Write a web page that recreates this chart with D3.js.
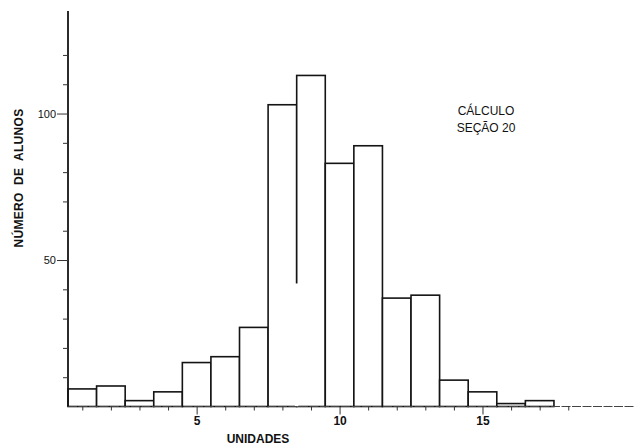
<!DOCTYPE html>
<html>
<head>
<meta charset="utf-8">
<script src="https://cdn.jsdelivr.net/npm/d3@7/dist/d3.min.js"></script>
<style>
  html, body { margin: 0; padding: 0; background: #fff; }
  svg { display: block; font-family: "Liberation Sans", Arial, Helvetica, sans-serif; }
</style>
</head>
<body>
<svg id="chart" width="634" height="447"></svg>
<script>
// Histogram: number of students per unit count (Cálculo, seção 20)
const unidades = [1, 2, 3, 4, 5, 6, 7, 8, 9, 10, 11, 12, 13, 14, 15, 16, 17];
const alunos   = [6, 7, 2, 5, 15, 17, 27, 103, 113, 83, 89, 37, 38, 9, 5, 1, 2];
const xTicks = d3.range(1, 19);
const xTickLabels = [5, 10, 15];
const yTicks = d3.range(10, 130, 10);
const yTickLabels = [50, 100];
const titleLines = ["CÁLCULO", "SEÇÃO 20"];
const xTitle = "UNIDADES";
const yTitle = "NÚMERO  DE  ALUNOS";
// the pen stroke between bars 8 and 9 stops short of the baseline
const undrawnEdges = [{ between: [8, 9], upTo: 42 }];

const W = 634, H = 447;
const margin = { top: 11, right: 0, bottom: 40.5, left: 68 };

const svg = d3.select("#chart");

const x = d3.scaleLinear().domain([0.5, 20.3]).range([margin.left, W - margin.right]);
const y = d3.scaleLinear().domain([0, 135]).range([H - margin.bottom, margin.top]);

const ink = "#141414";

// bars
svg.append("g")
  .selectAll("rect")
  .data(unidades.map((u, i) => ({ u, v: alunos[i] })))
  .join("rect")
  .attr("x", d => x(d.u - 0.5))
  .attr("width", d => x(d.u + 0.5) - x(d.u - 0.5))
  .attr("y", d => y(d.v))
  .attr("height", d => y(0) - y(d.v))
  .attr("fill", "#fff")
  .attr("stroke", ink)
  .attr("stroke-width", 1.6);

// blank out the lower part of the shared edge that was never inked
svg.append("g")
  .selectAll("line")
  .data(undrawnEdges)
  .join("line")
  .attr("x1", d => x((d.between[0] + d.between[1]) / 2))
  .attr("x2", d => x((d.between[0] + d.between[1]) / 2))
  .attr("y1", y(0))
  .attr("y2", d => y(d.upTo))
  .attr("stroke", "#fff")
  .attr("stroke-width", 3.4);

// x axis
const xAxis = d3.axisBottom(x)
  .tickValues(xTicks)
  .tickSize(4)
  .tickFormat(d => xTickLabels.includes(d) ? d : "");
const gx = svg.append("g")
  .attr("transform", `translate(0,${y(0)})`)
  .call(xAxis);
gx.select(".domain")
  .attr("d", `M${x(0.5)},0H${W}`)
  .attr("stroke", "#444")
  .attr("stroke-width", 1)
  .attr("stroke-dasharray", "9 1.5");
gx.selectAll(".tick line")
  .attr("stroke", "#333")
  .attr("stroke-width", 1)
  .attr("y2", d => xTickLabels.includes(d) ? 8 : 4);
gx.selectAll(".tick text")
  .attr("y", 10)
  .attr("fill", "#111")
  .attr("font-size", 12)
  .attr("font-weight", "bold")
  .attr("font-family", "'Liberation Sans', Arial, sans-serif");

// y axis
const yAxis = d3.axisLeft(y)
  .tickValues(yTicks)
  .tickSize(5)
  .tickFormat(d => yTickLabels.includes(d) ? d : "");
const gy = svg.append("g")
  .attr("transform", `translate(${x(0.5)},0)`)
  .call(yAxis);
gy.select(".domain")
  .attr("d", `M0,${y(0)}V${y(135)}`)
  .attr("stroke", ink)
  .attr("stroke-width", 1.8);
gy.selectAll(".tick line")
  .attr("stroke", "#333")
  .attr("stroke-width", 1)
  .attr("x2", d => yTickLabels.includes(d) ? -11 : -5);
gy.selectAll(".tick text")
  .attr("x", -12)
  .attr("fill", "#111")
  .attr("font-size", 11)
  .attr("font-family", "'Liberation Sans', Arial, sans-serif");

// axis titles
svg.append("text")
  .attr("x", 258)
  .attr("y", 443)
  .attr("text-anchor", "middle")
  .attr("font-size", 12)
  .attr("font-weight", "bold")
  .attr("fill", "#111")
  .text(xTitle);

svg.append("text")
  .attr("transform", `translate(23,${178}) rotate(-90)`)
  .attr("text-anchor", "middle")
  .attr("font-size", 12)
  .attr("font-weight", "bold")
  .attr("letter-spacing", 0.3)
  .attr("fill", "#111")
  .style("white-space", "pre")
  .text(yTitle);

// annotation
svg.append("g")
  .selectAll("text")
  .data(titleLines)
  .join("text")
  .attr("x", 486)
  .attr("y", (d, i) => 115 + i * 17)
  .attr("text-anchor", "middle")
  .attr("font-size", 12)
  .attr("fill", "#111")
  .text(d => d);
</script>
</body>
</html>
